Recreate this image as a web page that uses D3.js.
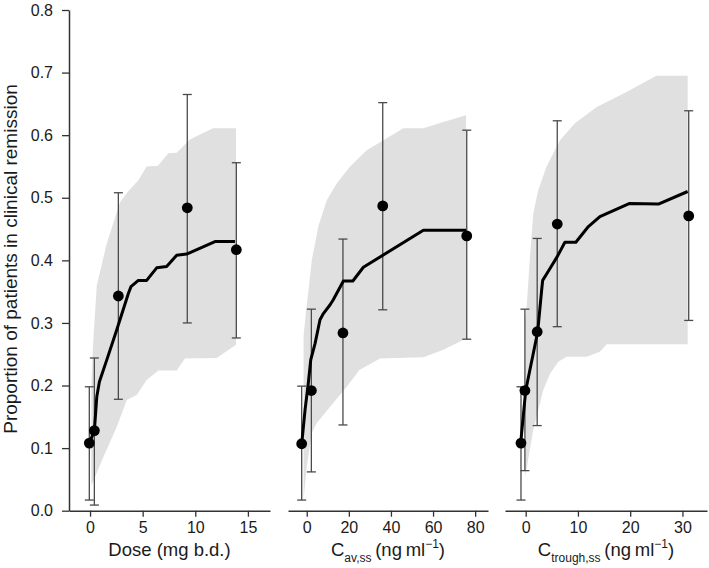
<!DOCTYPE html>
<html><head><meta charset="utf-8">
<script src="https://cdn.jsdelivr.net/npm/d3@7"></script>
<style>
html,body{margin:0;padding:0;background:#fff;}
text{font-family:"Liberation Sans",Arial,Helvetica,sans-serif;fill:#1a1a1a;}
</style></head>
<body><svg id="chart" width="709" height="568"></svg>
<script>
// ---------- data ----------
const yTicks = [0.0, 0.1, 0.2, 0.3, 0.4, 0.5, 0.6, 0.7, 0.8];
const doseTicks = [0, 5, 10, 15];
const cavTicks = [0, 20, 40, 60, 80];
const ctrTicks = [0, 10, 20, 30];

// Panel 1: Dose
const doseObsX  = [-0.07, 0.41, 2.69, 9.24, 13.9];
const doseObsY  = [0.108, 0.128, 0.343, 0.484, 0.417];
const doseObsLo = [0.017, 0.009, 0.178, 0.300, 0.276];
const doseObsHi = [0.198, 0.244, 0.508, 0.665, 0.556];
const doseMedX = [-0.07, 0.41, 0.64, 0.89, 1.59, 2.54, 3.64, 3.89, 4.59, 5.38, 6.33, 7.28, 8.23, 9.18, 11.87, 13.77];
const doseMedY = [0.108, 0.128, 0.182, 0.206, 0.241, 0.289, 0.347, 0.358, 0.368, 0.368, 0.388, 0.390, 0.408, 0.410, 0.430, 0.430];
const doseUpX = [0.12, 0.3, 0.64, 1.59, 2.85, 3.61, 4.59, 5.38, 6.46, 7.44, 8.23, 9.5, 10.45, 11.7, 13.87];
const doseUpY = [0.200, 0.270, 0.360, 0.427, 0.493, 0.510, 0.528, 0.550, 0.551, 0.571, 0.572, 0.593, 0.601, 0.611, 0.611];
const doseLoX = [0.12, 1.27, 2.54, 3.49, 4.43, 5.38, 6.49, 8.23, 9.02, 12.03, 13.87];
const doseLoY = [0.040, 0.086, 0.134, 0.177, 0.185, 0.209, 0.224, 0.224, 0.243, 0.244, 0.265];

// Panel 2: Cav,ss
const cavObsX  = [-2.4, 2.2, 17.2, 36.1, 76.0];
const cavObsY  = [0.107, 0.192, 0.284, 0.487, 0.439];
const cavObsLo = [0.017, 0.062, 0.137, 0.321, 0.274];
const cavObsHi = [0.199, 0.322, 0.434, 0.652, 0.608];
const cavMedX = [-2.38, -0.8, 0.76, 1.9, 3.94, 6.3, 7.9, 11.1, 12.6, 17.4, 21.9, 26.9, 55.4, 75.7];
const cavMedY = [0.107, 0.161, 0.204, 0.241, 0.267, 0.305, 0.315, 0.329, 0.337, 0.367, 0.367, 0.389, 0.448, 0.448];
const cavUpX = [-1.5, -0.3, 0.76, 2.4, 5.5, 9.5, 14.3, 20.6, 28.5, 36.4, 45.9, 55.4, 64.9, 75.7];
const cavUpY = [0.280, 0.320, 0.350, 0.400, 0.454, 0.496, 0.523, 0.550, 0.576, 0.592, 0.611, 0.611, 0.621, 0.632];
const cavLoX = [-1.5, 0.0, 2.4, 4.75, 11.1, 19.0, 25.0, 34.8, 55.4, 64.9, 75.7];
const cavLoY = [0.017, 0.070, 0.124, 0.140, 0.166, 0.198, 0.225, 0.243, 0.245, 0.257, 0.275];

// Panel 3: Ctrough,ss
const ctrObsX  = [-0.9, -0.15, 2.2, 6.04, 31.2];
const ctrObsY  = [0.108, 0.192, 0.286, 0.458, 0.471];
const ctrObsLo = [0.017, 0.064, 0.136, 0.294, 0.304];
const ctrObsHi = [0.198, 0.322, 0.435, 0.623, 0.639];
const ctrMedX = [-0.96, 0.0, 2.3, 3.06, 3.25, 4.65, 6.04, 7.5, 9.6, 12.0, 14.2, 19.9, 25.4, 31.0];
const ctrMedY = [0.108, 0.192, 0.286, 0.353, 0.368, 0.387, 0.406, 0.429, 0.429, 0.454, 0.470, 0.491, 0.490, 0.510];
const ctrUpX = [-0.1, 0.19, 0.82, 1.45, 2.4, 4.0, 6.56, 9.43, 13.6, 19.3, 25.0, 31.0];
const ctrUpY = [0.300, 0.326, 0.406, 0.475, 0.512, 0.550, 0.592, 0.619, 0.645, 0.669, 0.695, 0.695];
const ctrLoX = [-0.1, 1.45, 3.37, 4.65, 6.23, 7.84, 11.66, 14.2, 15.5, 31.0];
const ctrLoY = [0.054, 0.129, 0.193, 0.219, 0.238, 0.246, 0.246, 0.254, 0.266, 0.266];

// ---------- drawing ----------
const svg = d3.select('#chart');
const yScale = d3.scaleLinear().domain([0, 0.8]).range([510.7, 10]);

const panels = [
  {dom: [-2.0, 17.1], rng: [69, 270], ticks: doseTicks,
   obsX: doseObsX, obsY: doseObsY, lo: doseObsLo, hi: doseObsHi,
   medX: doseMedX, medY: doseMedY, upX: doseUpX, upY: doseUpY, loX: doseLoX, loY: doseLoY,
   title: [{t: 'Dose (mg b.d.)', dy: 0}]},
  {dom: [-8.9, 86.1], rng: [288, 488], ticks: cavTicks,
   obsX: cavObsX, obsY: cavObsY, lo: cavObsLo, hi: cavObsHi,
   medX: cavMedX, medY: cavMedY, upX: cavUpX, upY: cavUpY, loX: cavLoX, loY: cavLoY,
   title: [{t: 'C', dy: 0}, {t: 'av,ss', small: true, dy: 6}, {t: '\u2009(ng\u2009ml', dy: -6},
           {t: '\u22121', small: true, dy: -8}, {t: ')', dy: 8}]},
  {dom: [-3.96, 34.7], rng: [505, 707], ticks: ctrTicks,
   obsX: ctrObsX, obsY: ctrObsY, lo: ctrObsLo, hi: ctrObsHi,
   medX: ctrMedX, medY: ctrMedY, upX: ctrUpX, upY: ctrUpY, loX: ctrLoX, loY: ctrLoY,
   title: [{t: 'C', dy: 0}, {t: 'trough,ss', small: true, dy: 6}, {t: '\u2009(ng\u2009ml', dy: -6},
           {t: '\u22121', small: true, dy: -8}, {t: ')', dy: 8}]}
];

panels.forEach(p => {
  const x = d3.scaleLinear().domain(p.dom).range(p.rng);
  const g = svg.append('g');

  // band polygon
  const poly = p.upX.map((v, i) => [x(v), yScale(p.upY[i])])
    .concat(p.loX.map((v, i) => [x(v), yScale(p.loY[i])]).reverse());
  g.append('path').attr('d', d3.line()(poly) + 'Z')
    .attr('fill', '#e0e0e0').attr('stroke', 'none');

  // error bars
  const eb = g.append('g').attr('stroke', '#4a4a4a').attr('stroke-width', 1.3).attr('fill', 'none');
  p.obsX.forEach((v, i) => {
    const cx = x(v), y0 = yScale(p.lo[i]), y1 = yScale(p.hi[i]);
    eb.append('line').attr('x1', cx).attr('x2', cx).attr('y1', y0).attr('y2', y1);
    eb.append('line').attr('x1', cx - 4.5).attr('x2', cx + 4.5).attr('y1', y0).attr('y2', y0);
    eb.append('line').attr('x1', cx - 4.5).attr('x2', cx + 4.5).attr('y1', y1).attr('y2', y1);
  });

  // median line
  const med = p.medX.map((v, i) => [x(v), yScale(p.medY[i])]);
  g.append('path').attr('d', d3.line()(med))
    .attr('fill', 'none').attr('stroke', '#000').attr('stroke-width', 3)
    .attr('stroke-linejoin', 'round');

  // observed points
  g.selectAll('circle.obs').data(p.obsX).enter().append('circle')
    .attr('cx', d => x(d)).attr('cy', (d, i) => yScale(p.obsY[i])).attr('r', 5.4)
    .attr('fill', '#000');

  // x axis
  const ax = g.append('g').attr('transform', 'translate(0,510.7)')
    .call(d3.axisBottom(x).tickValues(p.ticks).tickSize(6).tickSizeOuter(0).tickPadding(5));
  ax.select('.domain').attr('stroke', '#333').attr('stroke-width', 1.5);
  ax.selectAll('.tick line').attr('stroke', '#333').attr('stroke-width', 1.3);
  ax.selectAll('.tick text').attr('font-size', 16).attr('font-family', '"Liberation Sans",Arial,sans-serif').attr('fill', '#1a1a1a');

  // title
  const t = g.append('text').attr('x', (p.rng[0] + p.rng[1]) / 2).attr('y', 556)
    .attr('text-anchor', 'middle').attr('font-size', 18.5);
  p.title.forEach(s => {
    const ts = t.append('tspan').text(s.t).attr('dy', s.dy);
    if (s.small) ts.attr('font-size', 12);
  });
});

// y axis
const yAx = svg.append('g').attr('transform', 'translate(69,0)')
  .call(d3.axisLeft(yScale).tickValues(yTicks).tickFormat(d3.format('.1f')).tickSize(7).tickSizeOuter(0).tickPadding(9));
yAx.select('.domain').attr('stroke', '#333').attr('stroke-width', 1.5);
yAx.selectAll('.tick line').attr('stroke', '#333').attr('stroke-width', 1.3);
yAx.selectAll('.tick text').attr('font-size', 16).attr('font-family', '"Liberation Sans",Arial,sans-serif').attr('fill', '#1a1a1a');

svg.append('text').attr('transform', 'translate(17,259) rotate(-90)')
  .attr('text-anchor', 'middle').attr('font-size', 19)
  .text('Proportion of patients in clinical remission');
</script></body></html>
